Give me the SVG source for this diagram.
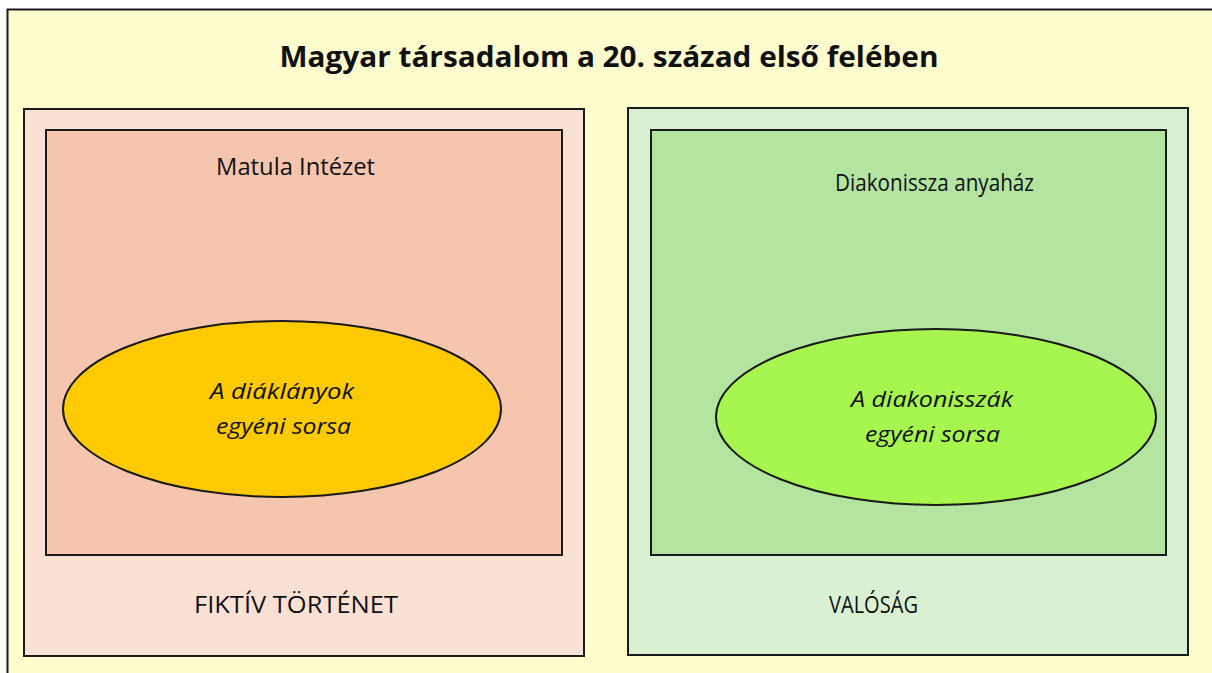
<svg xmlns="http://www.w3.org/2000/svg" width="1212" height="673" viewBox="0 0 1212 673">
<style>
.frame{stroke:#1a1a1a;stroke-width:2}
.t{font-family:"Open Sans","Noto Sans","Liberation Sans",sans-serif;fill:#111;text-anchor:middle}
.lbl{font-size:23px}
.it{font-size:22px;font-style:italic}
.title{font-size:28px;font-weight:bold}
</style>
<rect x="0" y="0" width="1212" height="673" fill="#ffffff"/>
<g id="background">
<rect x="7.5" y="9.5" width="1215" height="675" fill="#FEFDCD" class="frame"/>
<text class="t title" x="609" y="67" textLength="659" lengthAdjust="spacingAndGlyphs">Magyar társadalom a 20. század első felében</text>
</g>
<g id="fiktiv">
<rect x="24" y="109" width="560" height="547" fill="#FBE1D4" class="frame"/>
<text class="t lbl" x="296" y="613" textLength="204" lengthAdjust="spacingAndGlyphs">FIKTÍV TÖRTÉNET</text>
</g>
<g id="matula">
<rect x="46" y="130" width="516" height="425" fill="#F5C6AD" class="frame"/>
<text class="t lbl" x="295.5" y="175" textLength="159" lengthAdjust="spacingAndGlyphs">Matula Intézet</text>
</g>
<g id="diaklanyok">
<ellipse cx="282" cy="409" rx="219" ry="88" fill="#FFCB00" class="frame"/>
<text class="t it" x="282" y="399" textLength="144" lengthAdjust="spacingAndGlyphs">A diáklányok</text>
<text class="t it" x="283.5" y="434" textLength="135" lengthAdjust="spacingAndGlyphs">egyéni sorsa</text>
</g>
<g id="valosag">
<rect x="628" y="108" width="560" height="547" fill="#D9F1D2" class="frame"/>
<text class="t lbl" x="873.5" y="613" textLength="89" lengthAdjust="spacingAndGlyphs">VALÓSÁG</text>
</g>
<g id="anyahaz">
<rect x="651" y="130" width="515" height="425" fill="#B3E5A0" class="frame"/>
<text class="t lbl" x="934.5" y="191" textLength="199" lengthAdjust="spacingAndGlyphs">Diakonissza anyaház</text>
</g>
<g id="diakonisszak">
<ellipse cx="936" cy="417" rx="220" ry="88" fill="#A7F54F" class="frame"/>
<text class="t it" x="932" y="407" textLength="162" lengthAdjust="spacingAndGlyphs">A diakonisszák</text>
<text class="t it" x="932.5" y="442" textLength="135" lengthAdjust="spacingAndGlyphs">egyéni sorsa</text>
</g>
<g id="connectors"></g>
</svg>
